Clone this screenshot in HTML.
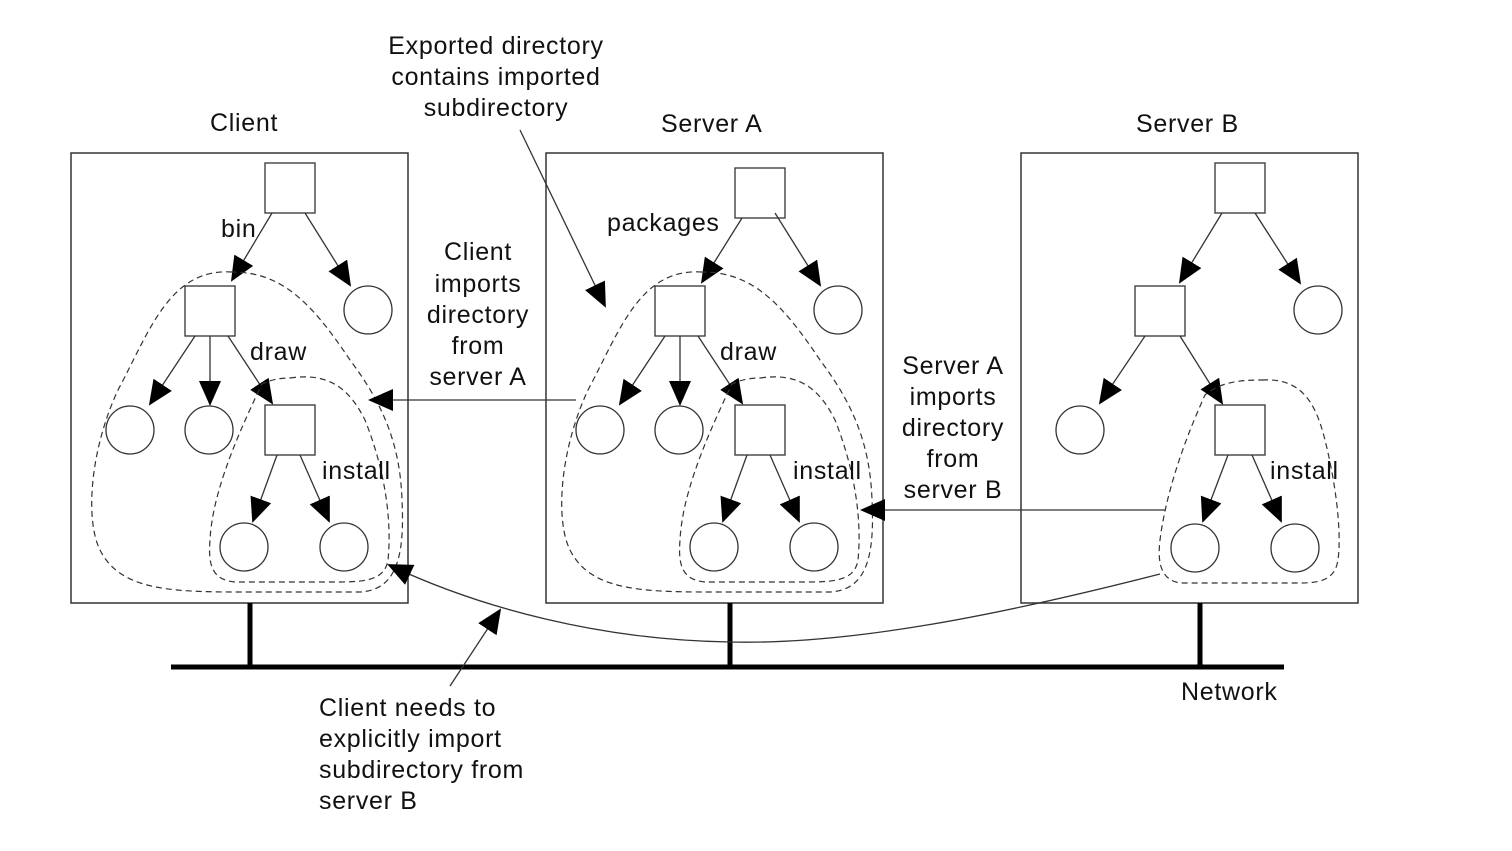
<!DOCTYPE html>
<html><head><meta charset="utf-8"><style>
body{margin:0;background:#fff}
svg text{font-family:"Liberation Sans",Arial,sans-serif;font-size:25px;letter-spacing:0.7px;fill:#111}
</style></head><body>
<svg width="1512" height="846" viewBox="0 0 1512 846" xmlns="http://www.w3.org/2000/svg">
<defs>
<marker id="a" markerWidth="25" markerHeight="22" refX="23" refY="11" orient="auto" markerUnits="userSpaceOnUse">
<path d="M0,0 L25,11 L0,22 Z" fill="#000"/></marker>
<g id="tree">
<rect x="185" y="286" width="50" height="50" fill="#fff" stroke="#333" stroke-width="1.3"/>
<rect x="265" y="405" width="50" height="50" fill="#fff" stroke="#333" stroke-width="1.3"/>
<g fill="none" stroke="#333" stroke-width="1.3">
<circle cx="368" cy="310" r="24"/><circle cx="130" cy="430" r="24"/><circle cx="209" cy="430" r="24"/>
<circle cx="244" cy="547" r="24"/><circle cx="344" cy="547" r="24"/>
</g>
<g stroke="#333" stroke-width="1.3" marker-end="url(#a)">
<line x1="305" y1="213" x2="350" y2="285"/>
<line x1="195" y1="336" x2="150" y2="404"/>
<line x1="210" y1="336" x2="210" y2="404"/>
<line x1="228" y1="336" x2="272" y2="403"/>
<line x1="277" y1="455" x2="253" y2="521"/>
<line x1="300" y1="455" x2="329" y2="521"/>
</g>
<g fill="none" stroke="#333" stroke-width="1.2" stroke-dasharray="6,4">
<path d="M232,272 C170,268 150,330 118,390 C90,450 85,520 100,550 C120,590 170,592 240,592 L360,592 C395,590 405,560 402,500 C400,440 380,400 350,360 C310,300 280,272 232,272 Z"/>
<path d="M290,378 C330,372 350,390 365,420 C385,470 392,520 388,560 C385,578 370,582 340,582 L235,582 C212,580 208,565 210,540 C212,500 230,450 262,384 C270,380 280,378 290,378 Z"/>
</g>
</g>
</defs>
<g fill="none" stroke="#333" stroke-width="1.5">
<rect x="71" y="153" width="337" height="450"/>
<rect x="546" y="153" width="337" height="450"/>
<rect x="1021" y="153" width="337" height="450"/>
</g>
<rect x="265" y="163" width="50" height="50" fill="#fff" stroke="#333" stroke-width="1.3"/>
<line x1="272" y1="213" x2="232" y2="280" stroke="#333" stroke-width="1.3" marker-end="url(#a)"/>
<use href="#tree"/>
<rect x="735" y="168" width="50" height="50" fill="#fff" stroke="#333" stroke-width="1.3"/>
<line x1="742" y1="218" x2="702" y2="282" stroke="#333" stroke-width="1.3" marker-end="url(#a)"/>
<g transform="translate(470,0)"><use href="#tree"/></g>
<g stroke="#333" stroke-width="1.3" fill="#fff">
<rect x="1215" y="163" width="50" height="50"/>
<rect x="1135" y="286" width="50" height="50"/>
<rect x="1215" y="405" width="50" height="50"/>
</g>
<g fill="none" stroke="#333" stroke-width="1.3">
<circle cx="1318" cy="310" r="24"/><circle cx="1080" cy="430" r="24"/>
<circle cx="1195" cy="548" r="24"/><circle cx="1295" cy="548" r="24"/>
</g>
<g stroke="#333" stroke-width="1.3" marker-end="url(#a)">
<line x1="1222" y1="213" x2="1180" y2="282"/>
<line x1="1255" y1="213" x2="1300" y2="283"/>
<line x1="1145" y1="336" x2="1100" y2="403"/>
<line x1="1180" y1="336" x2="1222" y2="403"/>
<line x1="1228" y1="455" x2="1203" y2="521"/>
<line x1="1252" y1="455" x2="1281" y2="521"/>
</g>
<path d="M1262,380 C1300,378 1315,400 1325,440 C1335,480 1342,530 1338,560 C1335,580 1320,583 1300,583 L1180,583 C1162,580 1157,565 1160,540 C1165,500 1180,450 1205,395 C1220,382 1240,380 1262,380 Z" fill="none" stroke="#333" stroke-width="1.2" stroke-dasharray="6,4"/>
<line x1="171" y1="667" x2="1284" y2="667" stroke="#000" stroke-width="5"/>
<g stroke="#000" stroke-width="5">
<line x1="250" y1="603" x2="250" y2="667"/><line x1="730" y1="603" x2="730" y2="667"/><line x1="1200" y1="603" x2="1200" y2="667"/>
</g>
<g stroke="#333" stroke-width="1.3" fill="none" marker-end="url(#a)">
<line x1="576" y1="400" x2="370" y2="400"/>
<line x1="1165" y1="510" x2="862" y2="510"/>
<path d="M1160,574 C1000,615 850,645 730,642 C600,640 480,608 389,565"/>
<line x1="450" y1="686" x2="500" y2="610"/>
<line x1="520" y1="130" x2="605" y2="306"/>
</g>
<text x="210" y="131">Client</text>
<text x="661" y="132">Server A</text>
<text x="1136" y="132">Server B</text>
<text x="221" y="237">bin</text>
<text x="250" y="360">draw</text>
<text x="322" y="479">install</text>
<text x="607" y="231">packages</text>
<text x="720" y="360">draw</text>
<text x="793" y="479">install</text>
<text x="1270" y="479">install</text>
<g text-anchor="middle">
<text x="496" y="54">Exported directory</text>
<text x="496" y="85">contains imported</text>
<text x="496" y="116">subdirectory</text>
<text x="478" y="260">Client</text>
<text x="478" y="292">imports</text>
<text x="478" y="323">directory</text>
<text x="478" y="354">from</text>
<text x="478" y="385">server A</text>
<text x="953" y="374">Server A</text>
<text x="953" y="405">imports</text>
<text x="953" y="436">directory</text>
<text x="953" y="467">from</text>
<text x="953" y="498">server B</text>
</g>
<text x="1181" y="700">Network</text>
<text x="319" y="716">Client needs to</text>
<text x="319" y="747">explicitly import</text>
<text x="319" y="778">subdirectory from</text>
<text x="319" y="809">server B</text>
</svg>
</body></html>
